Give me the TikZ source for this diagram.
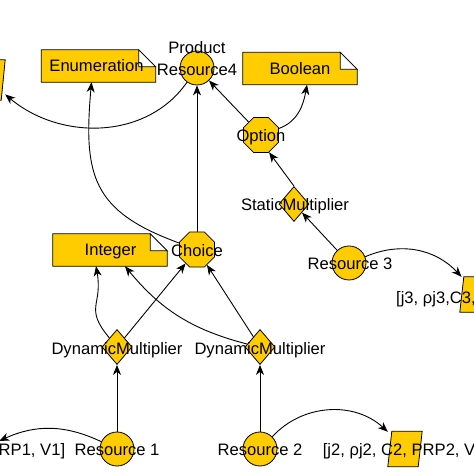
\documentclass[tikz,border=0pt]{standalone}
\usepackage{fontspec}
\setmainfont{Liberation Sans}
\usetikzlibrary{shapes.geometric, arrows.meta, backgrounds}
\definecolor{gold}{RGB}{255,204,0}
\begin{document}
\begin{tikzpicture}[x=1pt,y=1pt,
  every node/.style={font=\fontsize{16.6}{21.7}\selectfont, text=black},
  shp/.style={draw=black, fill=gold, line width=0.8pt, inner sep=0pt},
  res/.style={shp, circle, minimum size=34pt},
  oct/.style={shp, regular polygon, regular polygon sides=8, minimum size=38pt},
  mult/.style={shp, diamond, minimum width=30pt, minimum height=35pt},
  parabox/.style={rectangle, inner sep=0pt, minimum width=34pt, minimum height=35pt},
  notebox/.style={rectangle, minimum width=114pt, minimum height=32pt, inner sep=0pt},
  notefill/.style={draw=black, fill=gold, line width=0.8pt, line join=miter},
  foldfill/.style={draw=black, fill=white, line width=0.8pt},
  txt/.style={text height=12pt, text depth=0pt, inner sep=0pt},
  conn/.style={line width=0.9pt, -{Stealth[length=10pt,width=8pt,inset=3pt]}}
]
\useasboundingbox (0,0) rectangle (474,474);

% shapes
\node[res] (PR4) at (197,406) {};
\node[notebox] (Enum) at (98.5,408) {};
\node[notebox] (Bool) at (300,405.5) {};
\node[notebox] (Int) at (110,224) {};
\node[oct] (Choice) at (197,224.5) {};
\node[oct] (Option) at (261,339) {};
\node[mult] (SM) at (294,270) {};
\node[res] (R3) at (349,211) {};
\node[mult] (DM1) at (117,127) {};
\node[mult] (DM2) at (260,127) {};
\node[res] (R1) at (117,25) {};
\node[res] (R2) at (260,25) {};
\node[parabox] (P1) at (-18,25) {};
\node[parabox] (P2) at (405,25) {};
\node[parabox] (P3) at (477,179.5) {};
\node[parabox, minimum height=40pt] (P0) at (-12,394) {};

% note and parallelogram outlines
\begin{scope}[on background layer]
\foreach \n in {Enum,Bool,Int}{
  \draw[notefill] (\n.south west) -- (\n.north west) -- ([xshift=-17pt]\n.north east)
    -- ([yshift=-17pt]\n.north east) -- (\n.south east) -- cycle;
  \draw[foldfill] ([xshift=-17pt]\n.north east) -- ([xshift=-17pt,yshift=-17pt]\n.north east)
    -- ([yshift=-17pt]\n.north east) -- cycle;
}
\foreach \n in {P0,P1,P2,P3}{
  \draw[notefill] (\n.south west) -- ([xshift=4pt]\n.north west) -- (\n.north east)
    -- ([xshift=-4pt]\n.south east) -- cycle;
}
\end{scope}

% connectors
\draw[conn] (R1) -- (DM1);
\draw[conn] (R2) -- (DM2);
\draw[conn] (R1) to[bend right=25] (P1);
\draw[conn] (R2) to[bend left=45] (P2);
\draw[conn] (R3) to[bend left=35] (P3);
\draw[conn] (R3) -- (SM);
\draw[conn] (SM.north) -- (Option.295);
\draw[conn] (Option) -- (PR4);
\draw[conn] (Option) to[out=20, in=-100] ([xshift=7pt]Bool.south);
\draw[conn] (Choice) -- (PR4);
\draw[conn] (Choice) to[out=160, in=-95, looseness=1.3] ([xshift=-7pt]Enum.south);
\draw[conn] (PR4) to[out=235, in=-40] (P0);
\draw[conn] (DM1) to[out=130, in=-80, looseness=1.4] ([xshift=-14pt]Int.south);
\draw[conn] (DM1) -- (Choice);
\draw[conn] (DM2) -- (Choice);
\draw[conn] (DM2) to[bend left=18] ([xshift=15pt]Int.south);

% texts
\node[align=center, inner sep=0pt] (PR4t) at (197,415.7) {Product\\Resource4};
\node[txt] (Enumt) at (96.5,408) {Enumeration};
\node[txt] (Boolt) at (300,405.5) {Boolean};
\node[txt] (Intt) at (110.5,224) {Integer};
\node[txt] (Choicet) at (197,223.5) {Choice};
\node[txt] (Optiont) at (261,338.5) {Option};
\node[txt] (SMt) at (295,269.5) {StaticMultiplier};
\node[txt] (R3t) at (350,210) {Resource 3};
\node[txt] (DM1t) at (117,125.5) {DynamicMultiplier};
\node[txt] (DM2t) at (260,125.5) {DynamicMultiplier};
\node[txt] (R1t) at (117,25) {Resource 1};
\node[txt] (R2t) at (260,25) {Resource 2};
\node[txt] (P1t) at (-18,25) {[j1, ρj1, C1, PRP1, V1]};
\node[txt] (P2t) at (406,25) {[j2, ρj2, C2, PRP2, V2]};
\node[txt] (P3t) at (477,176) {[j3, ρj3,C3, PRP3, V3]};
\end{tikzpicture}
\end{document}
